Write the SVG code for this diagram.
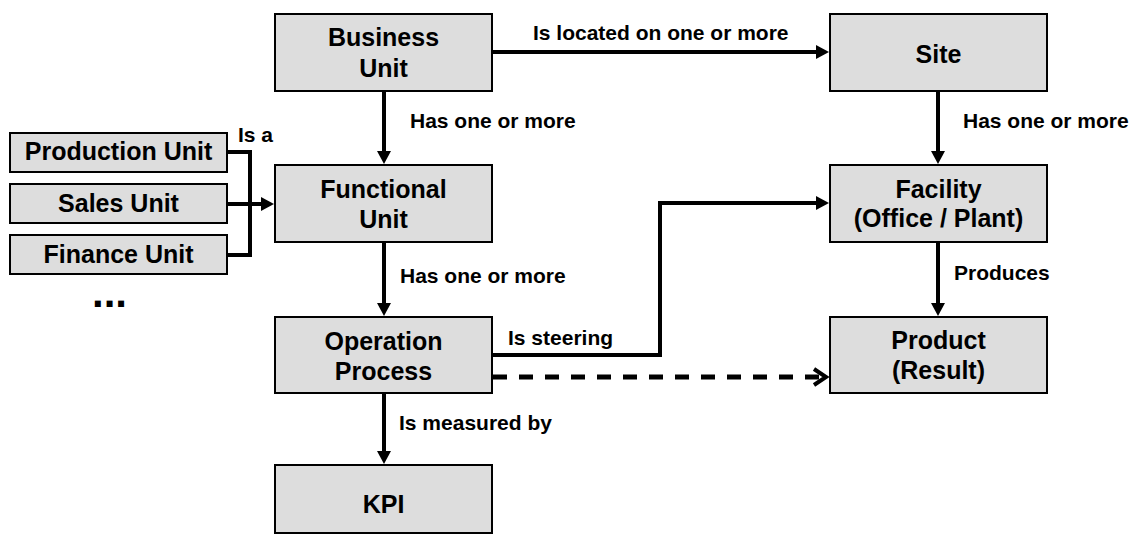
<svg xmlns="http://www.w3.org/2000/svg" width="1137" height="535" viewBox="0 0 1137 535">
<style>
.box{fill:#dddddd;stroke:#000;stroke-width:2}
.t{font-family:"Liberation Sans",Arial,sans-serif;font-weight:bold;font-size:25px;fill:#000;text-anchor:middle}
.l{font-family:"Liberation Sans",Arial,sans-serif;font-weight:bold;font-size:21px;fill:#000}
.c{fill:none;stroke:#000;stroke-width:4}
.d{fill:none;stroke:#000;stroke-width:5;stroke-dasharray:14 12}
</style>
<defs>
<marker id="arr" markerUnits="userSpaceOnUse" markerWidth="14" markerHeight="14" refX="7" refY="7" orient="auto">
<path d="M0,0 L13,7 L0,14 z" fill="#000"/>
</marker>
<marker id="chev" markerUnits="userSpaceOnUse" markerWidth="20" markerHeight="22" refX="14" refY="11" orient="auto">
<path d="M2,3 L14,11 L2,19" fill="none" stroke="#000" stroke-width="4"/>
</marker>
</defs>
<g id="connectors">
<path class="c" d="M492,52 H823" marker-end="url(#arr)"/>
<path class="c" d="M384,91 V158" marker-end="url(#arr)"/>
<path class="c" d="M938,91 V158" marker-end="url(#arr)"/>
<path class="c" d="M384,242 V310" marker-end="url(#arr)"/>
<path class="c" d="M938,242 V310" marker-end="url(#arr)"/>
<path class="c" d="M384,393 V458" marker-end="url(#arr)"/>
<path class="c" d="M492,355 H660 V203 H823" marker-end="url(#arr)"/>
<path class="d" d="M493,377 H826" marker-end="url(#chev)"/>
<path class="c" d="M227,152 H250 V255 H227"/>
<path class="c" d="M227,204 H268" marker-end="url(#arr)"/>
<text class="l" x="533" y="40">Is located on one or more</text>
<text class="l" x="410" y="128">Has one or more</text>
<text class="l" x="963" y="128">Has one or more</text>
<text class="l" x="400" y="283">Has one or more</text>
<text class="l" x="954" y="280">Produces</text>
<text class="l" x="508" y="345">Is steering</text>
<text class="l" x="399" y="430">Is measured by</text>
<text class="l" x="238" y="142">Is a</text>
</g>
<g id="business-unit"><rect class="box" x="275" y="14" width="217" height="77"/><text class="t" x="383.5" y="46">Business</text><text class="t" x="383.5" y="77">Unit</text></g>
<g id="site"><rect class="box" x="830" y="14" width="217" height="77"/><text class="t" x="938.5" y="63">Site</text></g>
<g id="functional-unit"><rect class="box" x="275" y="165" width="217" height="77"/><text class="t" x="383.5" y="198">Functional</text><text class="t" x="383.5" y="228">Unit</text></g>
<g id="facility"><rect class="box" x="830" y="165" width="217" height="77"/><text class="t" x="938.5" y="198">Facility</text><text class="t" x="938.5" y="227">(Office / Plant)</text></g>
<g id="operation-process"><rect class="box" x="275" y="317" width="217" height="76"/><text class="t" x="383.5" y="350">Operation</text><text class="t" x="383.5" y="380">Process</text></g>
<g id="product"><rect class="box" x="830" y="317" width="217" height="76"/><text class="t" x="938.5" y="349">Product</text><text class="t" x="938.5" y="379">(Result)</text></g>
<g id="kpi"><rect class="box" x="275" y="465" width="217" height="68"/><text class="t" x="383.5" y="513">KPI</text></g>
<g id="production-unit"><rect class="box" x="10" y="133" width="217" height="39"/><text class="t" x="118.5" y="160">Production Unit</text></g>
<g id="sales-unit"><rect class="box" x="10" y="184" width="217" height="39"/><text class="t" x="118.5" y="212">Sales Unit</text></g>
<g id="finance-unit"><rect class="box" x="10" y="235" width="217" height="39"/><text class="t" x="118.5" y="263">Finance Unit</text></g>
<g id="ellipsis"><text class="l" x="92" y="307" style="font-size:42px">...</text></g>
</svg>
